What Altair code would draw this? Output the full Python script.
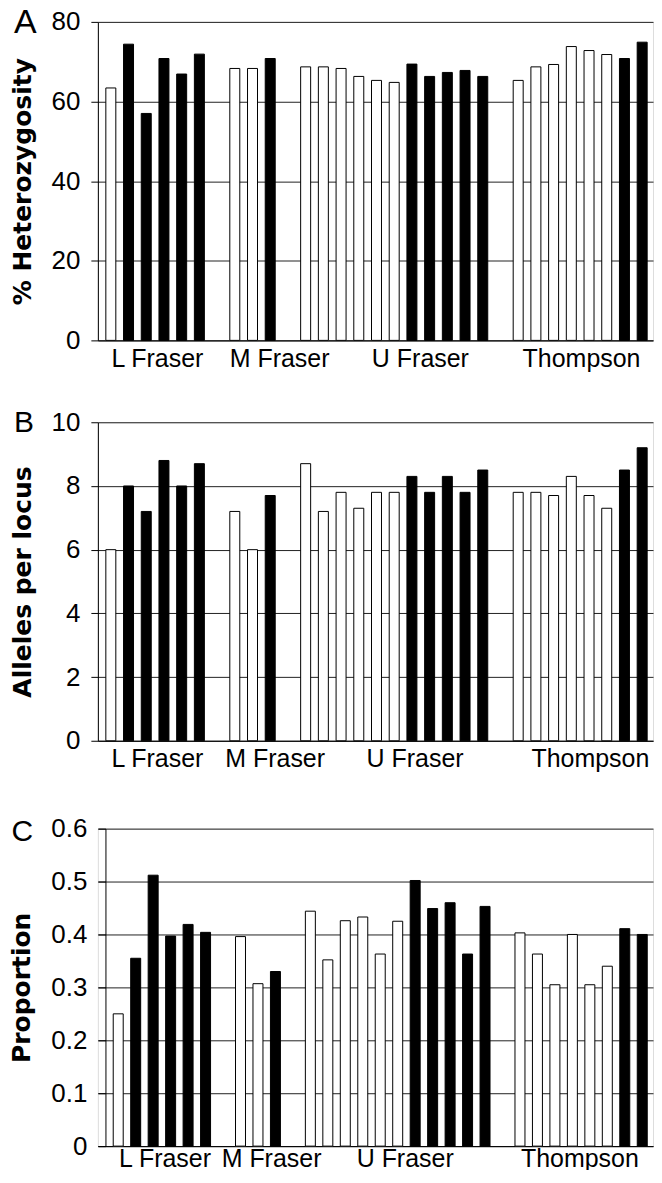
import altair as alt
import pandas as pd

FONT = "Liberation Sans"
TITLE_FONT = "DejaVu Sans"

groups = ["L Fraser", "M Fraser", "U Fraser", "Thompson"]
group_types = [
    ["open", "solid", "solid", "solid", "solid", "solid"],
    ["open", "open", "solid"],
    ["open", "open", "open", "open", "open", "open", "solid", "solid", "solid", "solid", "solid"],
    ["open", "open", "open", "open", "open", "open", "solid", "solid"],
]

heterozygosity = [
    [63.4, 74.4, 57.0, 70.8, 66.9, 71.9],
    [68.3, 68.3, 70.8],
    [68.7, 68.7, 68.3, 66.3, 65.3, 64.8, 69.4, 66.3, 67.3, 67.8, 66.3],
    [65.3, 68.7, 69.3, 73.8, 72.8, 71.8, 70.8, 74.9],
]
alleles = [
    [6.0, 8.0, 7.2, 8.8, 8.0, 8.7],
    [7.2, 6.0, 7.7],
    [8.7, 7.2, 7.8, 7.3, 7.8, 7.8, 8.3, 7.8, 8.3, 7.8, 8.5],
    [7.8, 7.8, 7.7, 8.3, 7.7, 7.3, 8.5, 9.2],
]
proportion = [
    [0.250, 0.355, 0.512, 0.397, 0.419, 0.404],
    [0.396, 0.307, 0.330],
    [0.444, 0.352, 0.426, 0.433, 0.363, 0.425, 0.502, 0.449, 0.460, 0.363, 0.453],
    [0.403, 0.363, 0.305, 0.400, 0.305, 0.340, 0.411, 0.400],
]


def build_frame(values):
    rows = []
    slot = 0
    for g, vals, types in zip(groups, values, group_types):
        for v, t in zip(vals, types):
            rows.append({"group": g, "slot": slot, "value": v, "type": t})
            slot += 1
        slot += 1  # empty slot between groups
    return pd.DataFrame(rows)


def label_expr(positions):
    cuts = [(positions[i] + positions[i + 1]) / 2 for i in range(len(positions) - 1)]
    expr = f"'{groups[-1]}'"
    for c, g in reversed(list(zip(cuts, groups[:-1]))):
        expr = f"datum.value < {c} ? '{g}' : ({expr})"
    return expr


def panel(values, ytitle, ydomain, yticks, yfmt, letter, letter_size, letter_x, letter_y,
          xdomain, label_pos, height, axis_offset=0, tick_size=7, xlabel_pad=6):
    df = build_frame(values)
    bars = alt.Chart(df).mark_bar(size=10, stroke="black", strokeWidth=1).encode(
        x=alt.X(
            "slot:Q",
            scale=alt.Scale(domain=xdomain, nice=False, zero=False),
            axis=alt.Axis(
                values=label_pos, labelExpr=label_expr(label_pos), title=None,
                grid=False, ticks=False, tickSize=0, domain=True, domainColor="black",
                domainWidth=1, labelFontSize=25, labelPadding=xlabel_pad, labelFlush=False,
                labelOverlap=False, labelColor="black", labelFont=FONT,
            ),
        ),
        y=alt.Y(
            "value:Q",
            scale=alt.Scale(domain=ydomain, nice=False, zero=True),
            axis=alt.Axis(
                values=yticks, format=yfmt, title=ytitle, grid=True, gridColor="#222",
                gridWidth=1, domain=True, domainColor="black", tickColor="black",
                tickSize=tick_size, labelFontSize=26, labelPadding=11, labelColor="black",
                labelFont=FONT, titleFont=TITLE_FONT, titleFontSize=25,
                titleFontWeight="bold", titleColor="black", titlePadding=16,
                offset=axis_offset,
            ),
        ),
        color=alt.Color(
            "type:N",
            scale=alt.Scale(domain=["open", "solid"], range=["white", "black"]),
            legend=None,
        ),
    )
    tag = alt.Chart(pd.DataFrame({"letter": [letter]})).mark_text(
        align="left", baseline="top", fontSize=letter_size, font=FONT, color="black"
    ).encode(text="letter:N", x=alt.value(letter_x), y=alt.value(letter_y))
    return alt.layer(bars, tag).properties(width=556, height=height)


panel_a = panel(heterozygosity, "% Heterozygosity", [0, 80], [0, 20, 40, 60, 80], "d",
                "A", 34, -84, -15.5, [-0.45, 30.33], [2.6, 9.5, 17.45, 26.55], 319)
panel_b = panel(alleles, "Alleles per locus", [0, 10], [0, 2, 4, 6, 8, 10], "d",
                "B", 30, -84, -14, [-0.45, 30.33], [2.6, 9.25, 17.15, 27.05], 319)
panel_c = panel(proportion, "Proportion", [0, 0.6], [0, 0.1, 0.2, 0.3, 0.4, 0.5, 0.6], "~g",
                "C", 30, -86.5, -12, [-0.88, 30.33], [2.65, 8.75, 16.4, 26.4], 318,
                axis_offset=-7.6, tick_size=7.6, xlabel_pad=0)

top = alt.VConcatChart(vconcat=[panel_a, panel_b], spacing=82, bounds="flush")
chart = alt.VConcatChart(vconcat=[top, panel_c], spacing=42).properties(
    padding={"left": 1, "top": -3, "right": 0, "bottom": -3}
).configure_view(stroke=None).configure(font=FONT)

chart.save("out.html", embed_options={"renderer": "svg", "actions": False})
